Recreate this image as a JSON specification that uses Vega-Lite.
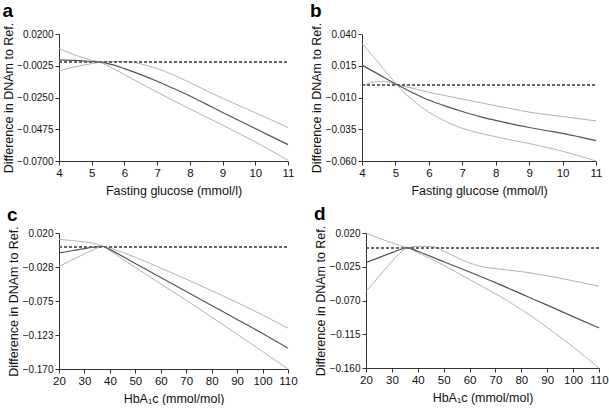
{
  "$schema": "https://vega.github.io/schema/vega-lite/v6.json",
  "padding": {"left": 2, "top": 2, "right": 0, "bottom": 0},
  "background": "white",
  "datasets": {
    "d": [
      {"p":"a","s":"est","x":4,"y":0.0017},{"p":"a","s":"est","x":4.5,"y":0.0013},{"p":"a","s":"est","x":5,"y":0.0005},{"p":"a","s":"est","x":5.25,"y":0},{"p":"a","s":"est","x":5.5,"y":-0.0010},{"p":"a","s":"est","x":6,"y":-0.0045},{"p":"a","s":"est","x":6.5,"y":-0.0088},{"p":"a","s":"est","x":7,"y":-0.0135},{"p":"a","s":"est","x":7.5,"y":-0.0186},{"p":"a","s":"est","x":8,"y":-0.0239},{"p":"a","s":"est","x":8.5,"y":-0.0297},{"p":"a","s":"est","x":9,"y":-0.0356},{"p":"a","s":"est","x":9.5,"y":-0.0413},{"p":"a","s":"est","x":10,"y":-0.0470},{"p":"a","s":"est","x":10.5,"y":-0.0527},{"p":"a","s":"est","x":11,"y":-0.0584},
      {"p":"a","s":"ci1","x":4,"y":0.0098},{"p":"a","s":"ci1","x":4.5,"y":0.0050},{"p":"a","s":"ci1","x":5,"y":0.0014},{"p":"a","s":"ci1","x":5.25,"y":0},{"p":"a","s":"ci1","x":5.5,"y":-0.0025},{"p":"a","s":"ci1","x":6,"y":-0.0088},{"p":"a","s":"ci1","x":6.5,"y":-0.0150},{"p":"a","s":"ci1","x":7,"y":-0.0212},{"p":"a","s":"ci1","x":7.5,"y":-0.0272},{"p":"a","s":"ci1","x":8,"y":-0.0330},{"p":"a","s":"ci1","x":8.5,"y":-0.0388},{"p":"a","s":"ci1","x":9,"y":-0.0445},{"p":"a","s":"ci1","x":9.5,"y":-0.0505},{"p":"a","s":"ci1","x":10,"y":-0.0565},{"p":"a","s":"ci1","x":10.5,"y":-0.0628},{"p":"a","s":"ci1","x":11,"y":-0.0695},
      {"p":"a","s":"ci2","x":4,"y":-0.0061},{"p":"a","s":"ci2","x":4.5,"y":-0.0032},{"p":"a","s":"ci2","x":5,"y":-0.0010},{"p":"a","s":"ci2","x":5.25,"y":0},{"p":"a","s":"ci2","x":5.5,"y":0.0005},{"p":"a","s":"ci2","x":6,"y":0.0006},{"p":"a","s":"ci2","x":6.5,"y":-0.0012},{"p":"a","s":"ci2","x":7,"y":-0.0045},{"p":"a","s":"ci2","x":7.5,"y":-0.0090},{"p":"a","s":"ci2","x":8,"y":-0.0144},{"p":"a","s":"ci2","x":8.5,"y":-0.0200},{"p":"a","s":"ci2","x":9,"y":-0.0256},{"p":"a","s":"ci2","x":9.5,"y":-0.0307},{"p":"a","s":"ci2","x":10,"y":-0.0358},{"p":"a","s":"ci2","x":10.5,"y":-0.0410},{"p":"a","s":"ci2","x":11,"y":-0.0463},

      {"p":"b","s":"est","x":4,"y":0.0155},{"p":"b","s":"est","x":4.5,"y":0.0082},{"p":"b","s":"est","x":5.05,"y":0},{"p":"b","s":"est","x":5.5,"y":-0.0060},{"p":"b","s":"est","x":6,"y":-0.0120},{"p":"b","s":"est","x":6.5,"y":-0.0168},{"p":"b","s":"est","x":7,"y":-0.0210},{"p":"b","s":"est","x":7.5,"y":-0.0248},{"p":"b","s":"est","x":8,"y":-0.0280},{"p":"b","s":"est","x":8.5,"y":-0.0310},{"p":"b","s":"est","x":9,"y":-0.0336},{"p":"b","s":"est","x":9.5,"y":-0.0360},{"p":"b","s":"est","x":10,"y":-0.0382},{"p":"b","s":"est","x":10.5,"y":-0.0410},{"p":"b","s":"est","x":11,"y":-0.0440},
      {"p":"b","s":"ci1","x":4,"y":0.0326},{"p":"b","s":"ci1","x":4.25,"y":0.0250},{"p":"b","s":"ci1","x":4.5,"y":0.0172},{"p":"b","s":"ci1","x":4.75,"y":0.0090},{"p":"b","s":"ci1","x":5.05,"y":0},{"p":"b","s":"ci1","x":5.25,"y":-0.0060},{"p":"b","s":"ci1","x":5.5,"y":-0.0117},{"p":"b","s":"ci1","x":6,"y":-0.0215},{"p":"b","s":"ci1","x":6.5,"y":-0.0288},{"p":"b","s":"ci1","x":7,"y":-0.0343},{"p":"b","s":"ci1","x":7.5,"y":-0.0380},{"p":"b","s":"ci1","x":8,"y":-0.0409},{"p":"b","s":"ci1","x":8.5,"y":-0.0437},{"p":"b","s":"ci1","x":9,"y":-0.0462},{"p":"b","s":"ci1","x":9.5,"y":-0.0492},{"p":"b","s":"ci1","x":10,"y":-0.0523},{"p":"b","s":"ci1","x":10.5,"y":-0.0560},{"p":"b","s":"ci1","x":11,"y":-0.0600},
      {"p":"b","s":"ci2","x":4,"y":-0.0008},{"p":"b","s":"ci2","x":4.3,"y":0.0018},{"p":"b","s":"ci2","x":4.6,"y":0.0028},{"p":"b","s":"ci2","x":4.85,"y":0.0018},{"p":"b","s":"ci2","x":5.05,"y":0},{"p":"b","s":"ci2","x":5.5,"y":-0.0026},{"p":"b","s":"ci2","x":6,"y":-0.0059},{"p":"b","s":"ci2","x":6.5,"y":-0.0086},{"p":"b","s":"ci2","x":7,"y":-0.0112},{"p":"b","s":"ci2","x":7.5,"y":-0.0139},{"p":"b","s":"ci2","x":8,"y":-0.0165},{"p":"b","s":"ci2","x":8.5,"y":-0.0190},{"p":"b","s":"ci2","x":9,"y":-0.0215},{"p":"b","s":"ci2","x":9.5,"y":-0.0234},{"p":"b","s":"ci2","x":10,"y":-0.0250},{"p":"b","s":"ci2","x":10.5,"y":-0.0267},{"p":"b","s":"ci2","x":11,"y":-0.0284},

      {"p":"c","s":"est","x":20,"y":-0.0078},{"p":"c","s":"est","x":25,"y":-0.0048},{"p":"c","s":"est","x":30,"y":-0.0018},{"p":"c","s":"est","x":35,"y":0.0010},{"p":"c","s":"est","x":37,"y":0.0015},{"p":"c","s":"est","x":40,"y":-0.0032},{"p":"c","s":"est","x":50,"y":-0.0227},{"p":"c","s":"est","x":60,"y":-0.0422},{"p":"c","s":"est","x":70,"y":-0.0618},{"p":"c","s":"est","x":80,"y":-0.0813},{"p":"c","s":"est","x":90,"y":-0.1008},{"p":"c","s":"est","x":100,"y":-0.1205},{"p":"c","s":"est","x":110,"y":-0.1410},
      {"p":"c","s":"ci1","x":20,"y":-0.0267},{"p":"c","s":"ci1","x":25,"y":-0.0178},{"p":"c","s":"ci1","x":30,"y":-0.0092},{"p":"c","s":"ci1","x":35,"y":-0.0010},{"p":"c","s":"ci1","x":37,"y":0.0015},{"p":"c","s":"ci1","x":40,"y":-0.0050},{"p":"c","s":"ci1","x":50,"y":-0.0280},{"p":"c","s":"ci1","x":60,"y":-0.0510},{"p":"c","s":"ci1","x":70,"y":-0.0740},{"p":"c","s":"ci1","x":80,"y":-0.0975},{"p":"c","s":"ci1","x":90,"y":-0.1215},{"p":"c","s":"ci1","x":100,"y":-0.1455},{"p":"c","s":"ci1","x":110,"y":-0.1700},
      {"p":"c","s":"ci2","x":20,"y":0.0111},{"p":"c","s":"ci2","x":25,"y":0.0095},{"p":"c","s":"ci2","x":30,"y":0.0075},{"p":"c","s":"ci2","x":35,"y":0.0042},{"p":"c","s":"ci2","x":37,"y":0.0015},{"p":"c","s":"ci2","x":40,"y":-0.0012},{"p":"c","s":"ci2","x":50,"y":-0.0140},{"p":"c","s":"ci2","x":60,"y":-0.0290},{"p":"c","s":"ci2","x":70,"y":-0.0445},{"p":"c","s":"ci2","x":80,"y":-0.0605},{"p":"c","s":"ci2","x":90,"y":-0.0770},{"p":"c","s":"ci2","x":100,"y":-0.0945},{"p":"c","s":"ci2","x":110,"y":-0.1130},

      {"p":"d","s":"est","x":20,"y":-0.0195},{"p":"d","s":"est","x":25,"y":-0.0128},{"p":"d","s":"est","x":30,"y":-0.0062},{"p":"d","s":"est","x":33,"y":-0.0024},{"p":"d","s":"est","x":36,"y":0.0005},{"p":"d","s":"est","x":40,"y":-0.0044},{"p":"d","s":"est","x":50,"y":-0.0183},{"p":"d","s":"est","x":60,"y":-0.0320},{"p":"d","s":"est","x":70,"y":-0.0462},{"p":"d","s":"est","x":80,"y":-0.0612},{"p":"d","s":"est","x":90,"y":-0.0762},{"p":"d","s":"est","x":100,"y":-0.0915},{"p":"d","s":"est","x":110,"y":-0.1065},
      {"p":"d","s":"ci1","x":20,"y":0.0200},{"p":"d","s":"ci1","x":25,"y":0.0130},{"p":"d","s":"ci1","x":30,"y":0.0070},{"p":"d","s":"ci1","x":33,"y":0.0035},{"p":"d","s":"ci1","x":36,"y":0.0005},{"p":"d","s":"ci1","x":40,"y":-0.0060},{"p":"d","s":"ci1","x":50,"y":-0.0230},{"p":"d","s":"ci1","x":60,"y":-0.0420},{"p":"d","s":"ci1","x":65,"y":-0.0515},{"p":"d","s":"ci1","x":70,"y":-0.0610},{"p":"d","s":"ci1","x":80,"y":-0.0820},{"p":"d","s":"ci1","x":90,"y":-0.1060},{"p":"d","s":"ci1","x":100,"y":-0.1320},{"p":"d","s":"ci1","x":110,"y":-0.1600},
      {"p":"d","s":"ci2","x":20,"y":-0.0580},{"p":"d","s":"ci2","x":25,"y":-0.0380},{"p":"d","s":"ci2","x":30,"y":-0.0180},{"p":"d","s":"ci2","x":33,"y":-0.0070},{"p":"d","s":"ci2","x":36,"y":0.0005},{"p":"d","s":"ci2","x":40,"y":0.0022},{"p":"d","s":"ci2","x":45,"y":0.0022},{"p":"d","s":"ci2","x":50,"y":-0.0040},{"p":"d","s":"ci2","x":55,"y":-0.0125},{"p":"d","s":"ci2","x":60,"y":-0.0200},{"p":"d","s":"ci2","x":65,"y":-0.0250},{"p":"d","s":"ci2","x":70,"y":-0.0275},{"p":"d","s":"ci2","x":80,"y":-0.0315},{"p":"d","s":"ci2","x":90,"y":-0.0370},{"p":"d","s":"ci2","x":100,"y":-0.0437},{"p":"d","s":"ci2","x":110,"y":-0.0510}
    ]
  },
  "config": {
    "font": "Liberation Sans",
    "view": {"stroke": null},
    "axis": {
      "grid": false,
      "domainColor": "#333",
      "tickColor": "#333",
      "tickSize": 4,
      "labelColor": "#111",
      "titleColor": "#111",
      "titleFontWeight": "normal",
      "titleFontSize": 12.5,
      "labelPadding": 2
    },
    "axisX": {"labelFontSize": 11.5, "titlePadding": 6, "labelFlush": false},
    "axisY": {"labelFontSize": 10, "minExtent": 38, "titlePadding": 1, "labelFlush": false},
    "title": {"anchor": "start", "frame": "bounds", "fontSize": 19, "fontWeight": "bold", "color": "#000", "offset": 1}
  },
  "vconcat": [
    {
      "hconcat": [
        {
          "title": "a",
          "width": 229, "height": 127,
          "data": {"name": "d"},
          "transform": [{"filter": "datum.p == 'a'"}],
          "encoding": {
            "x": {"field": "x", "type": "quantitative", "scale": {"domain": [4, 11], "nice": false, "zero": false}, "axis": {"values": [4,5,6,7,8,9,10,11], "title": "Fasting glucose (mmol/l)"}},
            "y": {"field": "y", "type": "quantitative", "scale": {"domain": [-0.07, 0.02], "nice": false, "zero": false}, "axis": {"values": [0.02,-0.0025,-0.025,-0.0475,-0.07], "format": ".4f", "title": "Difference in DNAm to Ref."}}
          },
          "layer": [
            {"transform": [{"filter": "datum.s != 'est'"}], "mark": {"type": "line", "color": "#b3b3b3", "strokeWidth": 1, "interpolate": "monotone"}, "encoding": {"detail": {"field": "s"}}},
            {"transform": [{"filter": "datum.s == 'est'"}], "mark": {"type": "line", "color": "#555", "strokeWidth": 1.2, "interpolate": "monotone"}},
            {"mark": {"type": "rule", "color": "#666", "strokeDash": [3, 2], "strokeWidth": 0.8}, "encoding": {"y": {"datum": 0}, "x": {"value": 0}, "x2": {"value": 229}}}
          ]
        },
        {
          "title": "b",
          "width": 234, "height": 127,
          "data": {"name": "d"},
          "transform": [{"filter": "datum.p == 'b'"}],
          "encoding": {
            "x": {"field": "x", "type": "quantitative", "scale": {"domain": [4, 11], "nice": false, "zero": false}, "axis": {"values": [4,5,6,7,8,9,10,11], "title": "Fasting glucose (mmol/l)"}},
            "y": {"field": "y", "type": "quantitative", "scale": {"domain": [-0.06, 0.04], "nice": false, "zero": false}, "axis": {"values": [0.04,0.015,-0.01,-0.035,-0.06], "format": ".3f", "title": "Difference in DNAm to Ref."}}
          },
          "layer": [
            {"transform": [{"filter": "datum.s != 'est'"}], "mark": {"type": "line", "color": "#b3b3b3", "strokeWidth": 1, "interpolate": "monotone"}, "encoding": {"detail": {"field": "s"}}},
            {"transform": [{"filter": "datum.s == 'est'"}], "mark": {"type": "line", "color": "#555", "strokeWidth": 1.2, "interpolate": "monotone"}},
            {"mark": {"type": "rule", "color": "#666", "strokeDash": [3, 2], "strokeWidth": 0.8}, "encoding": {"y": {"datum": 0}, "x": {"value": 0}, "x2": {"value": 234}}}
          ]
        }
      ],
      "spacing": 15
    },
    {
      "hconcat": [
        {
          "title": "c",
          "width": 229, "height": 136,
          "data": {"name": "d"},
          "transform": [{"filter": "datum.p == 'c'"}],
          "encoding": {
            "x": {"field": "x", "type": "quantitative", "scale": {"domain": [20, 110], "nice": false, "zero": false}, "axis": {"values": [20,30,40,50,60,70,80,90,100,110], "title": "HbA₁c (mmol/mol)"}},
            "y": {"field": "y", "type": "quantitative", "scale": {"domain": [-0.17, 0.02], "nice": false, "zero": false}, "axis": {"values": [0.02,-0.0275,-0.075,-0.1225,-0.17], "labelExpr": "format(datum.value - 0.000001, '.3f')", "title": "Difference in DNAm to Ref."}}
          },
          "layer": [
            {"transform": [{"filter": "datum.s != 'est'"}], "mark": {"type": "line", "color": "#b3b3b3", "strokeWidth": 1, "interpolate": "monotone"}, "encoding": {"detail": {"field": "s"}}},
            {"transform": [{"filter": "datum.s == 'est'"}], "mark": {"type": "line", "color": "#555", "strokeWidth": 1.2, "interpolate": "monotone"}},
            {"mark": {"type": "rule", "color": "#666", "strokeDash": [3, 2], "strokeWidth": 0.8}, "encoding": {"y": {"datum": 0}, "x": {"value": 0}, "x2": {"value": 229}}}
          ]
        },
        {
          "title": "d",
          "width": 233, "height": 135,
          "data": {"name": "d"},
          "transform": [{"filter": "datum.p == 'd'"}],
          "encoding": {
            "x": {"field": "x", "type": "quantitative", "scale": {"domain": [20, 110], "nice": false, "zero": false}, "axis": {"values": [20,30,40,50,60,70,80,90,100,110], "title": "HbA₁c (mmol/mol)"}},
            "y": {"field": "y", "type": "quantitative", "scale": {"domain": [-0.16, 0.02], "nice": false, "zero": false}, "axis": {"values": [0.02,-0.025,-0.07,-0.115,-0.16], "format": ".3f", "title": "Difference in DNAm to Ref."}}
          },
          "layer": [
            {"transform": [{"filter": "datum.s != 'est'"}], "mark": {"type": "line", "color": "#b3b3b3", "strokeWidth": 1, "interpolate": "monotone"}, "encoding": {"detail": {"field": "s"}}},
            {"transform": [{"filter": "datum.s == 'est'"}], "mark": {"type": "line", "color": "#555", "strokeWidth": 1.2, "interpolate": "monotone"}},
            {"mark": {"type": "rule", "color": "#666", "strokeDash": [3, 2], "strokeWidth": 0.8}, "encoding": {"y": {"datum": 0}, "x": {"value": 0}, "x2": {"value": 233}}}
          ]
        }
      ],
      "spacing": 15
    }
  ],
  "spacing": 8
}
